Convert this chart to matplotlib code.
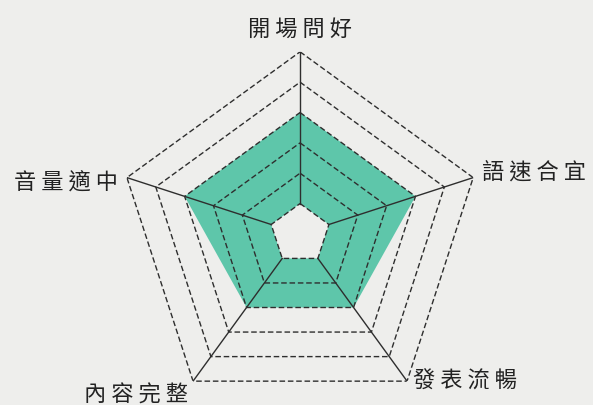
import numpy as np
import matplotlib
matplotlib.use("Agg")
import matplotlib.pyplot as plt

plt.rcParams['font.family'] = ['Noto Sans CJK TC', 'DejaVu Sans']

# categories clockwise from top
labels = ['開場問好', '語速合宜', '發表流暢', '內容完整', '音量適中']
scores = [4, 4, 3, 3, 4]
levels = [1, 2, 3, 4, 5, 6]

n = len(labels)
theta = np.arange(n) * 2 * np.pi / n
theta_c = np.append(theta, theta[0])
bg = '#eeeeec'

fig = plt.figure(figsize=(5.93, 4.06), dpi=100)
fig.patch.set_facecolor(bg)
ax = fig.add_axes([0.199, -0.027, 0.614, 0.897], projection='polar')
ax.set_theta_offset(np.pi / 2)
ax.set_theta_direction(-1)
ax.set_ylim(0, 6)
ax.axis('off')

# filled score area (centre ring left blank, as on the sheet)
ax.fill(theta_c, np.append(scores, scores[0]), color='#45bf9f', alpha=0.85, lw=0)
ax.fill(theta_c, [levels[0]] * (n + 1), color=bg, lw=0)

# dashed rings
for lv in levels:
    ax.plot(theta_c, [lv] * (n + 1), color='#2e2e2e', lw=1.0, ls=(0, (4, 2)))

# spokes
for t in theta:
    ax.plot([t, t], [levels[0], levels[-1]], color='#2e2e2e', lw=1.0)

offsets = [(0, 12, 'center', 'bottom'),
           (9, 7, 'left', 'center'),
           (6, 1, 'left', 'center'),
           (-5, -13, 'right', 'center'),
           (-9, -3, 'right', 'center')]
for t, lab, (dx, dy, ha, va) in zip(theta, labels, offsets):
    ax.annotate(' '.join(lab), (t, levels[-1]), xytext=(dx, dy), textcoords='offset pixels',
                ha=ha, va=va, fontsize=16, fontweight='medium', color='#222222',
                annotation_clip=False)

fig.savefig('out.png', dpi=100, facecolor=fig.get_facecolor())
